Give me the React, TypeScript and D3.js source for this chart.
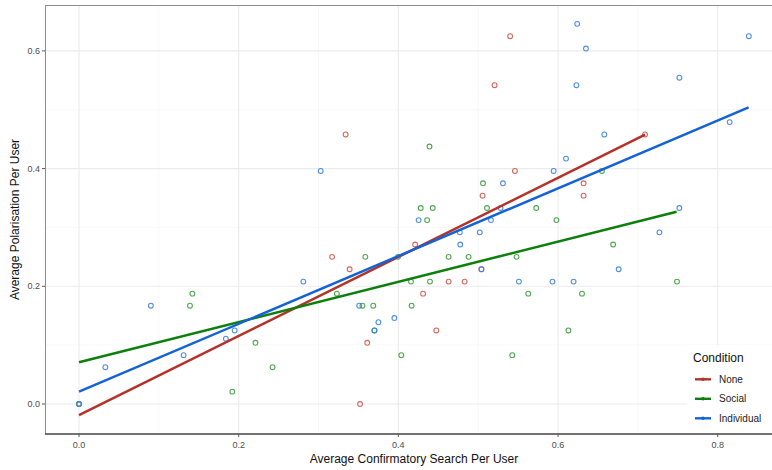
import React from "react";
import * as d3 from "d3";

// point data: [avg confirmatory search, avg polarisation]
const nonePoints: [number, number][] = [
  [0, 0], [0.352, 0], [0.361, 0.104], [0.4475, 0.125], [0.431, 0.1875],
  [0.463, 0.208], [0.483, 0.208], [0.339, 0.229], [0.317, 0.25], [0.421, 0.271],
  [0.5055, 0.354], [0.546, 0.396], [0.334, 0.458], [0.5205, 0.5417], [0.54, 0.625],
  [0.709, 0.458], [0.632, 0.375], [0.632, 0.354], [0.504, 0.229],
];

const socialPoints: [number, number][] = [
  [0, 0], [0.192, 0.021], [0.2425, 0.0625], [0.221, 0.104], [0.139, 0.167],
  [0.142, 0.1875], [0.323, 0.1875], [0.355, 0.167], [0.3686, 0.167], [0.4166, 0.167],
  [0.37, 0.125], [0.4037, 0.083], [0.5427, 0.083], [0.4158, 0.208], [0.4396, 0.208],
  [0.3586, 0.25], [0.3995, 0.25], [0.463, 0.25], [0.488, 0.25], [0.548, 0.25],
  [0.428, 0.333], [0.443, 0.333], [0.511, 0.333], [0.436, 0.3125], [0.506, 0.375],
  [0.439, 0.4375], [0.5727, 0.333], [0.598, 0.3125], [0.655, 0.396], [0.669, 0.271],
  [0.5627, 0.1875], [0.63, 0.1875], [0.613, 0.125], [0.749, 0.208],
];

const individualPoints: [number, number][] = [
  [0, 0], [0.033, 0.0625], [0.09, 0.167], [0.131, 0.083], [0.184, 0.111],
  [0.195, 0.125], [0.281, 0.208], [0.3027, 0.396], [0.351, 0.167], [0.37, 0.125],
  [0.375, 0.139], [0.395, 0.146], [0.4254, 0.3125], [0.4775, 0.271], [0.477, 0.2917],
  [0.502, 0.2917], [0.504, 0.229], [0.516, 0.3125], [0.528, 0.333], [0.531, 0.375],
  [0.551, 0.208], [0.593, 0.208], [0.6195, 0.208], [0.5945, 0.396], [0.61, 0.417],
  [0.658, 0.458], [0.623, 0.5417], [0.624, 0.646], [0.635, 0.604], [0.676, 0.229],
  [0.727, 0.2917], [0.752, 0.333], [0.752, 0.5545], [0.815, 0.479], [0.839, 0.625],
];

// fitted lines (endpoints)
const noneFit: [number, number][] = [[0, -0.019], [0.709, 0.4577]];
const socialFit: [number, number][] = [[0, 0.0708], [0.7485, 0.3268]];
const individualFit: [number, number][] = [[0, 0.021], [0.8387, 0.504]];

const xTicks = [0, 0.2, 0.4, 0.6, 0.8];
const yTicks = [0, 0.2, 0.4, 0.6];
const xMinor = [0.1, 0.3, 0.5, 0.7];
const yMinor = [0.1, 0.3, 0.5];

const conditions = ["None", "Social", "Individual"];

const width = 772;
const height = 470;
const margin = { top: 5, right: 0, bottom: 36, left: 45 };
const font = "'Liberation Sans', Arial, Helvetica, sans-serif";

export default function App() {
  const x = d3.scaleLinear().domain([-0.0426, 0.868]).range([margin.left, width - margin.right]);
  const y = d3.scaleLinear().domain([-0.051, 0.678]).range([height - margin.bottom, margin.top]);

  const series = [
    { name: conditions[0], pts: nonePoints, fit: noneFit, line: "#b5322a", pt: "#cf574f" },
    { name: conditions[1], pts: socialPoints, fit: socialFit, line: "#0c7f0c", pt: "#3d9d3d" },
    { name: conditions[2], pts: individualPoints, fit: individualFit, line: "#1463d6", pt: "#3f82e0" },
  ];

  const line = d3.line<[number, number]>().x(d => x(d[0])).y(d => y(d[1]));

  const x0 = margin.left;
  const x1 = width - margin.right;
  const y0 = margin.top;
  const y1 = height - margin.bottom;

  const legendX = 687;
  const legendY = 345;

  return (
    <svg width={width} height={height} style={{ position: "absolute", left: 0, top: 0, background: "#fff" }} fontFamily={font}>
      <rect x={x0} y={y0} width={x1 - x0} height={y1 - y0} fill="#fff" />
      {/* minor grid */}
      {xMinor.map(v => (
        <line key={"xm" + v} x1={x(v)} x2={x(v)} y1={y0} y2={y1} stroke="#f4f4f4" strokeWidth={0.6} />
      ))}
      {yMinor.map(v => (
        <line key={"ym" + v} x1={x0} x2={x1} y1={y(v)} y2={y(v)} stroke="#f4f4f4" strokeWidth={0.6} />
      ))}
      {/* major grid */}
      {xTicks.map(v => (
        <line key={"xg" + v} x1={x(v)} x2={x(v)} y1={y0} y2={y1} stroke="#ebebeb" strokeWidth={1.1} />
      ))}
      {yTicks.map(v => (
        <line key={"yg" + v} x1={x0} x2={x1} y1={y(v)} y2={y(v)} stroke="#ebebeb" strokeWidth={1.1} />
      ))}

      {/* points */}
      {series.map(s => (
        <g key={"p" + s.name}>
          {s.pts.map((d, i) => (
            <circle key={i} cx={x(d[0])} cy={y(d[1])} r={2.4} fill="none" stroke={s.pt} strokeWidth={1.1} strokeOpacity={0.9} />
          ))}
        </g>
      ))}

      {/* fit lines */}
      {series.map(s => (
        <path key={"l" + s.name} d={line(s.fit) || ""} fill="none" stroke={s.line} strokeWidth={2.5} />
      ))}

      {/* panel border */}
      <line x1={x0} x2={x1} y1={y0 + 0.5} y2={y0 + 0.5} stroke="#8c8c8c" strokeWidth={1} />
      <line x1={x0 + 0.5} x2={x0 + 0.5} y1={y0} y2={y1} stroke="#8c8c8c" strokeWidth={1} />
      <line x1={x0} x2={x1} y1={y1} y2={y1} stroke="#444" strokeWidth={1.3} />

      {/* y axis */}
      {yTicks.map(v => (
        <g key={"yt" + v}>
          <line x1={x0 - 3} x2={x0} y1={y(v)} y2={y(v)} stroke="#555" strokeWidth={1} />
          <text x={x0 - 5} y={y(v) + 3.2} fontSize={9} fill="#4d4d4d" textAnchor="end">{v.toFixed(1)}</text>
        </g>
      ))}
      {/* x axis */}
      {xTicks.map(v => (
        <g key={"xt" + v}>
          <line x1={x(v)} x2={x(v)} y1={y1} y2={y1 + 3} stroke="#555" strokeWidth={1} />
          <text x={x(v)} y={y1 + 14} fontSize={9} fill="#4d4d4d" textAnchor="middle">{v.toFixed(1)}</text>
        </g>
      ))}

      <text x={414} y={463} fontSize={12} fill="#111" textAnchor="middle">Average Confirmatory Search Per User</text>
      <text transform={`translate(19,${(y0 + y1) / 2}) rotate(-90)`} fontSize={12} fill="#111" textAnchor="middle">Average Polarisation Per User</text>

      {/* legend */}
      <rect x={legendX} y={legendY} width={width - legendX} height={y1 - legendY - 1} fill="#fff" />
      <text x={693} y={362} fontSize={12} fill="#111">Condition</text>
      {series.map((s, i) => {
        const ly = 379.3 + i * 19.5;
        return (
          <g key={"lg" + s.name}>
            <line x1={695} x2={711} y1={ly} y2={ly} stroke={s.line} strokeWidth={2.4} />
            <circle cx={703} cy={ly} r={1.8} fill={s.line} />
            <text x={719} y={ly + 3.6} fontSize={10} fill="#222">{s.name}</text>
          </g>
        );
      })}
    </svg>
  );
}
